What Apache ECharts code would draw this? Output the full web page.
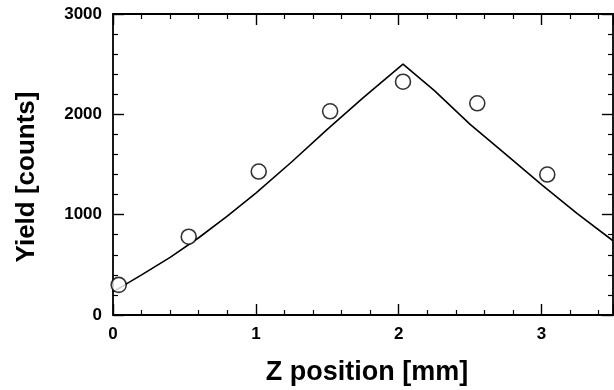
<!DOCTYPE html>
<html>
<head>
<meta charset="utf-8">
<script src="https://cdn.jsdelivr.net/npm/echarts@6/dist/echarts.min.js"></script>
<style>
  html, body { margin: 0; padding: 0; background: #fff; }
  #chart { width: 614px; height: 390px; }
</style>
</head>
<body>
<div id="chart"></div>
<script>
// Measured yield at each Z position
const zPos = [0.04, 0.53, 1.02, 1.52, 2.03, 2.55, 3.04];
const yieldMeasured = [300, 780, 1430, 2030, 2325, 2110, 1400];

// Calculated yield curve
const fitZ = [0, 0.2, 0.4, 0.6, 0.8, 1.0, 1.25, 1.5, 1.75, 2.03, 2.25, 2.5, 2.75, 3.0, 3.25, 3.5];
const fitYield = [230, 400, 575, 770, 985, 1215, 1525, 1850, 2165, 2500, 2236, 1900, 1600, 1300, 1010, 740];

// Axis ticks
const xTicks = [0, 1, 2, 3];
const yTicks = [0, 1000, 2000, 3000];

const FONT = '"Liberation Sans", Arial, Helvetica, sans-serif';

const chart = echarts.init(document.getElementById('chart'), null, { renderer: 'canvas' });

const lineStyle = { color: '#000', width: 1.8 };
const tickCommon = { show: true, inside: true, length: 11, lineStyle: { color: '#000', width: 1.4 } };
const minorCommon = { show: true, splitNumber: 5, length: 5, lineStyle: { color: '#000', width: 1.2 } };

function xAxisDef(pos, labels) {
  return {
    type: 'value', position: pos, min: 0, max: 3.5, interval: 1,
    axisLine: { show: true, onZero: false, lineStyle: lineStyle },
    axisTick: tickCommon,
    minorTick: minorCommon,
    splitLine: { show: false },
    axisLabel: {
      show: labels, margin: 11, showMaxLabel: false,
      color: '#000', fontFamily: FONT, fontWeight: 'bold', fontSize: 17,
      formatter: v => (xTicks.indexOf(v) >= 0 ? String(v) : '')
    }
  };
}

function yAxisDef(pos, labels) {
  return {
    type: 'value', position: pos, min: 0, max: 3000, interval: 1000,
    axisLine: { show: true, onZero: false, lineStyle: lineStyle },
    axisTick: tickCommon,
    minorTick: minorCommon,
    splitLine: { show: false },
    axisLabel: {
      show: labels, margin: 11,
      color: '#000', fontFamily: FONT, fontWeight: 'bold', fontSize: 17,
      formatter: v => (yTicks.indexOf(v) >= 0 ? String(v) : '')
    }
  };
}

chart.setOption({
  backgroundColor: '#fff',
  animation: false,
  grid: { left: 113, top: 14, right: 1, bottom: 75, containLabel: false },
  xAxis: [xAxisDef('bottom', true), xAxisDef('top', false)],
  yAxis: [yAxisDef('left', true), yAxisDef('right', false)],
  graphic: [
    {
      type: 'text', z: 10,
      x: 367, y: 359,
      style: {
        text: 'Z position [mm]', fill: '#000',
        font: 'bold 27px ' + FONT,
        textAlign: 'center', textVerticalAlign: 'top'
      }
    },
    {
      type: 'text', z: 10,
      x: 14, y: 177, rotation: Math.PI / 2,
      style: {
        text: 'Yield [counts]', fill: '#000',
        font: 'bold 26px ' + FONT,
        textAlign: 'center', textVerticalAlign: 'top'
      }
    }
  ],
  series: [
    {
      type: 'line',
      xAxisIndex: 0, yAxisIndex: 0,
      data: fitZ.map((z, i) => [z, fitYield[i]]),
      showSymbol: false,
      symbol: 'none',
      lineStyle: { color: '#000', width: 1.6 },
      z: 2
    },
    {
      type: 'scatter',
      xAxisIndex: 0, yAxisIndex: 0,
      data: zPos.map((z, i) => [z, yieldMeasured[i]]),
      symbol: 'circle',
      symbolSize: 15,
      itemStyle: { color: '#fff', borderColor: '#000', borderWidth: 1.6 },
      z: 3
    }
  ]
});
</script>
</body>
</html>
